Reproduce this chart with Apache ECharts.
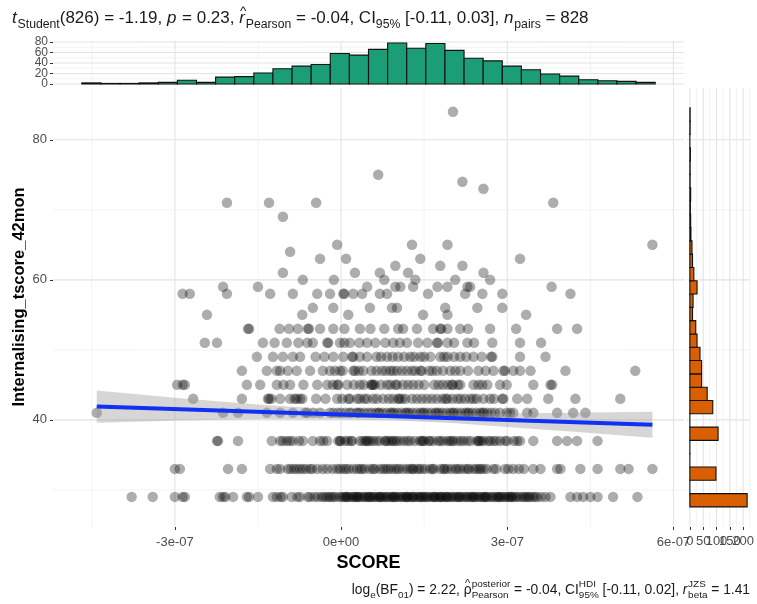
<!DOCTYPE html>
<html><head><meta charset="utf-8">
<script src="https://cdn.jsdelivr.net/npm/echarts@6/dist/echarts.min.js"></script>
<style>html,body{margin:0;padding:0;background:#fff}#c{width:757px;height:604px}</style>
</head><body><div id="c"></div>
<script>
// ---------- DATA (SCORE in units of 1e-8) ----------
const xTickValues = [-30, 0, 30, 60];
const xTickLabels = ['-3e-07', '0e+00', '3e-07', '6e-07'];
const xMinorGrid = [-45, -15, 15, 45];
const yTickValues = [40, 60, 80];
const yMinorGrid = [30, 50, 70];
const topHistTicks = [0, 20, 40, 60, 80];
const topHistMinor = [10, 30, 50, 70];
const rightHistTicks = [0, 50, 100, 150, 200];
const rightHistMinor = [25, 75, 125, 175, 225];

const topHistCounts = [2,1,1,2,3,7,3,13,14,21,29,34,37,58,55,66,78,68,77,64,49,44,34,27,19,15,8,6,5,3];
const topHistStart = -46.8, topHistBinWidth = 3.45;
const rightHistCounts = [215,0,98,0,0,106,0,86,65,44,44,38,27,22,10,12,27,15,10,8,4,3,2,3,1,1,2,0,1,1];
const rightHistStart = 27.57, rightHistBinWidth = 1.9;

const fitX = [-44.1, 56.2];
const fitY = [41.9, 39.3];
const bandX    = [-44.1, -29, -15, 0, 10, 20, 30, 42, 56.2];
const bandLow  = [39.6, 39.9, 40.1, 40.05, 39.9, 39.55, 39.0, 38.3, 37.45];
const bandHigh = [44.2, 43.1, 42.2, 41.45, 41.1, 40.95, 40.9, 41.0, 41.15];

const score29 = [-37.8,-34.0,-30.0,-28.6,-28.2,-21.9,-21.3,-20.9,-19.5,-17.0,-16.6,-15.0,-12.3,-11.6,-10.9,-10.5,-8.9,-7.4,-6.0,-5.6,-4.2,-3.5,-2.6,-1.8,-1.0,-0.3,0.5,1.2,2.0,2.6,3.3,4.1,4.8,5.5,6.1,6.9,7.6,8.2,9.0,9.7,10.4,11.1,11.9,12.5,13.2,14.0,14.8,15.4,16.1,16.9,17.6,18.3,19.1,19.8,20.5,21.2,22.0,22.7,23.4,24.1,24.9,25.6,26.3,27.1,27.8,28.6,29.3,30.0,30.8,31.5,32.3,33.1,33.8,34.6,35.4,36.1,37.8,41.4,42.6,43.7,45.0,46.3,49.1,53.5,0.1,1.6,2.9,4.4,5.9,7.3,8.6,10.0,11.4,12.8,14.3,15.7,17.2,18.7,20.1,21.6,23.0,24.5,25.9,27.4,28.9,30.3,31.8,33.5,35.0,-2.2,1.0,3.7,6.6,9.3,11.8,13.7,16.5,18.0,19.4,22.4,25.2,28.2,31.0,34.1,-7.9,-3.1,2.3,5.2,8.0,10.8,13.0,15.1,17.9,20.8,23.7,26.6,29.6,-1.4,0.8,3.0,5.0,7.0,9.5,12.0,14.5,16.8,19.0,21.3,23.9,26.0,28.4,30.6,32.8,-4.8,36.9];
const score33 = [-30.0,-29.1,-20.4,-17.9,-12.8,-11.6,-11.0,-9.6,-8.5,-8.0,-7.4,-6.9,-5.6,-5.2,-4.3,-2.5,-0.7,-0.2,0.4,0.9,2.2,3.4,3.8,4.3,5.2,7.0,7.6,8.5,9.0,10.1,10.5,11.9,12.4,13.0,13.7,14.6,15.2,16.1,17.9,19.2,19.9,21.0,21.5,22.8,23.9,24.4,25.2,25.7,26.3,27.5,29.6,30.2,31.1,33.0,34.7,36.0,39.0,39.6,43.2,46.3,50.4,51.9,56.2,-9.1,-6.3,1.4,6.1,11.2,14.1,18.5,22.2,24.9,-3.3,2.9,5.8,8.0,9.6,12.9,16.8,18.7,20.6,23.1,28.0,32.1,-1.5,16.5];
const score37 = [-22.4,-22.2,-18.6,-12.5,-11.0,-10.5,-9.8,-8.7,-6.9,-5.1,-3.8,-2.5,-0.2,-0.1,0.7,2.0,3.4,4.4,4.9,5.3,5.8,7.0,8.5,9.3,9.7,10.1,10.7,12.5,14.2,14.8,15.0,16.6,18.4,19.2,20.3,21.0,22.1,22.8,24.5,24.8,25.3,25.7,27.5,28.7,29.6,30.0,31.8,32.3,34.7,39.0,40.8,42.6,46.3,-0.5,4.6,9.0,14.5,20.0,24.9,1.2,6.4,12.0,17.5,23.4,1.8,3.9,7.9,11.4,13.3,16.0,17.9,19.6,21.6,26.5,28.0,-3.2,-7.6,-9.3,8.1,15.8,26.9,31.2];
const score41 = [-44.1,-21.3,-18.6,-13.4,-11.0,-8.7,-6.1,-3.8,-1.4,0.0,0.8,1.5,2.8,3.5,4.2,5.5,6.2,6.9,8.2,8.9,9.6,10.9,11.6,12.3,13.6,14.3,15.0,16.3,17.0,17.7,19.0,19.7,20.4,21.7,22.4,23.1,24.4,25.1,25.8,27.1,27.8,28.7,29.9,31.1,33.6,34.7,39.0,41.9,44.1,-6.5,-2.0,1.9,4.9,7.5,10.2,12.9,15.6,18.3,21.0,23.7,26.4,-5.0,-0.6,3.1,6.7,9.2,11.9,14.7,17.3,20.1,22.8,25.5,30.5];
const score43 = [-26.7,-17.9,-13.2,-13.0,-11.0,-9.2,-8.0,-7.4,-7.0,-0.7,1.3,1.6,2.9,3.4,4.7,5.8,7.6,9.4,10.3,10.5,11.6,12.8,13.7,15.5,17.3,18.3,19.2,20.1,21.0,22.4,23.3,25.7,26.9,29.1,29.3,31.8,33.6,37.4,42.3,50.4,-12.6,-8.4,0.2,4.2,8.6,14.6,16.4,21.6,24.5,-4.5,-2.8,6.5,11.0,18.9,23.9,27.6];
const score45 = [-29.6,-28.6,-28.2,-17.0,-14.6,-11.6,-9.2,-4.3,-2.5,-0.7,-0.5,1.1,3.4,5.4,5.6,5.8,6.1,8.3,8.9,9.8,10.1,11.2,13.0,18.4,20.0,20.2,21.1,21.5,23.9,26.4,28.7,34.7,37.8,38.1,-6.8,2.3,7.2,15.0,16.8,24.8,-10.4,-1.5,4.1,12.1,14.0,17.6,19.3,25.5,29.9];
const score47 = [-17.9,-13.4,-11.6,-11.0,-8.0,-3.3,-2.0,-0.2,0.3,2.2,2.5,4.0,7.4,8.1,8.9,9.4,10.1,11.9,14.3,14.6,15.9,17.3,18.4,19.7,21.5,24.8,27.5,29.3,29.6,31.1,32.3,34.2,40.5,53.1,-5.6,5.5,12.8,22.9,-9.6,-1.1,3.2,6.4,11.0,13.4,16.5,20.6,26.1];
const score49 = [-15.2,-12.3,-8.7,-7.4,-1.4,0.4,2.0,2.2,4.7,8.3,10.3,12.5,14.3,16.1,17.9,19.2,21.5,23.9,27.1,27.3,-4.6,6.4,25.4,32.3,36.9,-10.5,-3.0,3.4,7.2,9.3,11.4,13.2,15.0,18.6,20.4,22.6];
const score51 = [-24.6,-22.4,-14.1,-9.8,-6.1,-5.1,-2.5,-2.3,-0.2,1.6,4.7,8.0,9.4,11.9,17.3,17.5,19.2,27.3,13.9,22.8,32.3,36.1,-12.0,-7.7,0.6,3.3,6.2,10.6,15.6,20.4,24.0];
const score53 = [-16.8,-16.6,-7.8,-6.0,-5.8,-3.8,-1.4,3.4,10.3,11.2,16.6,17.9,18.1,19.2,21.5,26.9,39.0,42.6,-11.1,-9.4,0.6,5.3,7.8,13.7,22.9,31.6];
const score55 = [-24.2,-7.0,1.3,14.8,19.2,33.4];
const score56 = [-5.1,-1.4,5.2,9.2,10.1,18.8,24.6,29.1];
const score58 = [-28.6,-27.3,-20.6,-12.8,-8.7,-4.3,-2.0,0.4,0.6,2.2,3.8,7.0,8.3,15.7,22.4,25.5,29.1,41.4];
const score59 = [-21.3,-15.0,4.7,9.8,10.7,13.0,17.4,19.2,22.8,23.3,38.0];
const score60 = [-6.9,-1.3,7.8,13.4,20.6,26.9];
const score61 = [-10.5,2.5,7.0,12.1,25.7];
const score62 = [9.8,17.9,21.9];
const score63 = [-3.8,0.9,14.3,32.3];
const score64 = [-9.2];
const score65 = [-0.7,12.8,19.2,56.2];
const score69 = [-10.5];
const score71 = [-20.6,-13.0,-4.5,38.3];
const score73 = [25.7];
const score74 = [21.9];
const score75 = [6.7];
const score84 = [20.2];

const rows = [[29,score29],[33,score33],[37,score37],[41,score41],[43,score43],[45,score45],[47,score47],[49,score49],[51,score51],[53,score53],[55,score55],[56,score56],[58,score58],[59,score59],[60,score60],[61,score61],[62,score62],[63,score63],[64,score64],[65,score65],[69,score69],[71,score71],[73,score73],[74,score74],[75,score75],[84,score84]];
const points = [];
rows.forEach(([y, xs]) => xs.forEach(x => points.push([x, y])));

// ---------- LAYOUT ----------
const FONT = '"Liberation Sans", Arial, Helvetica, sans-serif';
const X_MIN = -52, X_MAX = 61.9, Y_MIN = 24.7, Y_MAX = 87.4;
const TH_MIN = -3.9, TH_MAX = 81.9, RH_MIN = -10.75, RH_MAX = 225.75;
const MAJOR = '#e3e3e3', MINOR = '#f0f0f0';
const LABEL_COLOR = '#4d4d4d';

function gridLines(xIdx, yIdx, xMin, yMin, vMajor, vMinor, hMajor, hMinor) {
  const data = [];
  vMinor.forEach(v => data.push([v, yMin, 0, 0])); hMinor.forEach(v => data.push([xMin, v, 1, 0]));
  vMajor.forEach(v => data.push([v, yMin, 0, 1])); hMajor.forEach(v => data.push([xMin, v, 1, 1]));
  return {
    type: 'custom', xAxisIndex: xIdx, yAxisIndex: yIdx, silent: true, z: 0,
    data: data, encode: {x: 0, y: 1},
    renderItem: function (params, api) {
      const cs = params.coordSys;
      const p = api.coord([api.value(0), api.value(1)]);
      const kind = api.value(2), major = api.value(3);
      const style = {stroke: major ? MAJOR : MINOR, lineWidth: major ? 1.1 : 0.8, fill: null};
      if (kind === 0) {
        return {type: 'line', shape: {x1: p[0], y1: cs.y, x2: p[0], y2: cs.y + cs.height}, style};
      }
      return {type: 'line', shape: {x1: cs.x, y1: p[1], x2: cs.x + cs.width, y2: p[1]}, style};
    }
  };
}

const noLine = {show: false, onZero: false};
const tickStyle = {lineStyle: {color: '#333', width: 1}, length: 3};
const labelStyle = {color: LABEL_COLOR, fontSize: 13, fontFamily: FONT, hideOverlap: false, showMinLabel: true, showMaxLabel: true};

const option = {
  animation: false,
  backgroundColor: '#fff',
  grid: [
    {left: 53, top: 88, width: 631, height: 439},
    {left: 53, top: 41, width: 631, height: 45},
    {left: 687, top: 88, width: 63, height: 439}
  ],
  xAxis: [
    {type: 'value', gridIndex: 0, min: X_MIN, max: X_MAX, axisLine: noLine, splitLine: {show: false},
      axisTick: Object.assign({show: true, customValues: xTickValues}, tickStyle),
      axisLabel: Object.assign({customValues: xTickValues, margin: 9,
        formatter: v => xTickLabels[xTickValues.indexOf(v)]}, labelStyle),
      name: 'SCORE', nameLocation: 'middle', nameGap: 24,
      nameTextStyle: {fontSize: 18, fontWeight: 'bold', color: '#000', fontFamily: FONT}},
    {type: 'value', gridIndex: 1, min: X_MIN, max: X_MAX, axisLine: noLine, splitLine: {show: false},
      axisTick: {show: false}, axisLabel: {show: false}},
    {type: 'value', gridIndex: 2, min: RH_MIN, max: RH_MAX, axisLine: noLine, splitLine: {show: false},
      axisTick: Object.assign({show: true, customValues: rightHistTicks}, tickStyle),
      axisLabel: {show: false}}
  ],
  yAxis: [
    {type: 'value', gridIndex: 0, min: Y_MIN, max: Y_MAX, axisLine: noLine, splitLine: {show: false},
      axisTick: Object.assign({show: true, customValues: yTickValues}, tickStyle),
      axisLabel: Object.assign({customValues: yTickValues, margin: 6}, labelStyle)},
    {type: 'value', gridIndex: 1, min: TH_MIN, max: TH_MAX, axisLine: noLine, splitLine: {show: false},
      axisTick: Object.assign({show: true, customValues: topHistTicks}, tickStyle),
      axisLabel: {show: false}},
    {type: 'value', gridIndex: 2, min: Y_MIN, max: Y_MAX, axisLine: noLine, splitLine: {show: false},
      axisTick: {show: false}, axisLabel: {show: false}}
  ],
  series: [
    gridLines(0, 0, X_MIN, Y_MIN, xTickValues, xMinorGrid, yTickValues, yMinorGrid),
    gridLines(1, 1, X_MIN, TH_MIN, xTickValues, xMinorGrid, topHistTicks, topHistMinor),
    gridLines(2, 2, RH_MIN, Y_MIN, rightHistTicks, rightHistMinor, yTickValues, yMinorGrid),
    {
      type: 'scatter', xAxisIndex: 0, yAxisIndex: 0, data: points, symbolSize: 10.5, z: 2,
      itemStyle: {color: 'rgba(0,0,0,0.4)'}, silent: true
    },
    {
      type: 'custom', xAxisIndex: 0, yAxisIndex: 0, z: 3, silent: true, data: [[bandX[0], bandLow[0]]],
      renderItem: function (params, api) {
        const pts = [];
        bandX.forEach((x, i) => pts.push(api.coord([x, bandHigh[i]])));
        for (let i = bandX.length - 1; i >= 0; i--) pts.push(api.coord([bandX[i], bandLow[i]]));
        return {type: 'polygon', shape: {points: pts}, style: {fill: 'rgba(153,153,153,0.4)'}};
      }
    },
    {
      type: 'line', xAxisIndex: 0, yAxisIndex: 0, z: 4, silent: true, showSymbol: false,
      data: fitX.map((x, i) => [x, fitY[i]]),
      lineStyle: {color: '#1030f5', width: 4}
    },
    {
      type: 'custom', xAxisIndex: 1, yAxisIndex: 1, z: 2, silent: true,
      data: topHistCounts.map((c, i) => [topHistStart + i * topHistBinWidth, topHistStart + (i + 1) * topHistBinWidth, c]),
      encode: {x: [0, 1], y: 2},
      renderItem: function (params, api) {
        const p0 = api.coord([api.value(0), 0]);
        const p1 = api.coord([api.value(1), api.value(2)]);
        return {type: 'rect', shape: {x: p0[0], y: p1[1], width: p1[0] - p0[0], height: p0[1] - p1[1]},
          style: {fill: '#1b9e77', stroke: '#111', lineWidth: 1.1}};
      }
    },
    {
      type: 'custom', xAxisIndex: 2, yAxisIndex: 2, z: 2, silent: true,
      data: rightHistCounts.map((c, i) => [c, rightHistStart + i * rightHistBinWidth, rightHistStart + (i + 1) * rightHistBinWidth]),
      encode: {x: 0, y: [1, 2]},
      renderItem: function (params, api) {
        const p0 = api.coord([0, api.value(1)]);
        const p1 = api.coord([api.value(0), api.value(2)]);
        return {type: 'rect', shape: {x: p0[0], y: p1[1], width: Math.max(p1[0] - p0[0], 0.001), height: p0[1] - p1[1]},
          style: {fill: '#d95f02', stroke: '#111', lineWidth: 1.1}};
      }
    }
  ],
  graphic: []
};

// ---------- math-style texts ----------
const mctx = document.createElement('canvas').getContext('2d');
function fontStr(size, italic, bold) { return (italic ? 'italic ' : '') + (bold ? 'bold ' : '') + size + 'px ' + FONT; }
function tw(text, size, italic) { mctx.font = fontStr(size, italic); return mctx.measureText(text).width; }
function buildMath(pieces, size, left, yc, color) {
  const out = []; let x = left; const ss = size * 0.72;
  const push = (t, xx, dy, s, it) => out.push({type: 'text', x: xx, y: yc + dy, silent: true,
    style: {text: t, font: fontStr(s, it), fill: color, verticalAlign: 'middle', align: 'left'}});
  pieces.forEach(p => {
    if (p.t !== undefined) {
      const it = p.st === 'i'; const ww = tw(p.t, size, it);
      push(p.t, x, 0, size, it);
      if (p.hat) { const hs = size * 0.8; const hw = tw('^', hs, false); push('^', x + (ww - hw) / 2 + (it ? size * 0.06 : 0), -0.42 * size, hs, false); }
      x += ww + (it ? size * 0.05 : 0);
    } else if (p.sub !== undefined) {
      push(p.sub, x, 0.36 * size, ss, false); x += tw(p.sub, ss, false);
    } else if (p.stack) {
      push(p.stack[0], x, -0.45 * size, ss, false); push(p.stack[1], x, 0.36 * size, ss, false);
      x += Math.max(tw(p.stack[0], ss, false), tw(p.stack[1], ss, false));
    }
  });
  return {out, width: x - left};
}
const subtitlePieces = [{t: 't', st: 'i'}, {sub: 'Student'}, {t: '(826) = -1.19, '}, {t: 'p', st: 'i'}, {t: ' = 0.23, '},
  {t: 'r', st: 'i', hat: true}, {sub: 'Pearson'}, {t: ' = -0.04, CI'}, {sub: '95%'}, {t: ' [-0.11, 0.03], '},
  {t: 'n', st: 'i'}, {sub: 'pairs'}, {t: ' = 828'}];
const captionPieces = [{t: 'log'}, {sub: 'e'}, {t: '(BF'}, {sub: '01'}, {t: ') = 2.22, '}, {t: 'ρ', hat: true},
  {stack: ['posterior', 'Pearson']}, {t: ' = -0.04, CI'}, {stack: ['HDI', '95%']}, {t: ' [-0.11, 0.02], '},
  {t: 'r', st: 'i'}, {stack: ['JZS', 'beta']}, {t: ' = 1.41'}];
const sub = buildMath(subtitlePieces, 17, 12, 18, '#1a1a1a');
const capDry = buildMath(captionPieces, 13.8, 0, 0, '#1a1a1a');
const cap = buildMath(captionPieces, 13.8, 750 - capDry.width, 590, '#1a1a1a');
const yTitle = {type: 'text', x: 19, y: 297, rotation: Math.PI / 2, silent: true,
  style: {text: 'Internalising_tscore_42mon', font: fontStr(16.5, false, true), fill: '#000', align: 'center', verticalAlign: 'middle'}};
option.graphic = sub.out.concat(cap.out, [yTitle]);

const chart = echarts.init(document.getElementById('c'), null, {renderer: 'canvas'});
chart.setOption(option);

// crowded marginal-axis labels placed through the axes' own scales
const extra = [];
topHistTicks.forEach(v => {
  const py = chart.convertToPixel({yAxisIndex: 1}, v);
  extra.push({type: 'text', x: 48, y: py, silent: true,
    style: {text: String(v), font: fontStr(12, false), fill: LABEL_COLOR, align: 'right', verticalAlign: 'middle'}});
});
rightHistTicks.forEach(v => {
  const px = chart.convertToPixel({xAxisIndex: 2}, v);
  extra.push({type: 'text', x: px, y: 541, silent: true,
    style: {text: String(v), font: fontStr(13, false), fill: LABEL_COLOR, align: 'center', verticalAlign: 'middle'}});
});
chart.setOption({graphic: option.graphic.concat(extra)});
</script></body></html>
